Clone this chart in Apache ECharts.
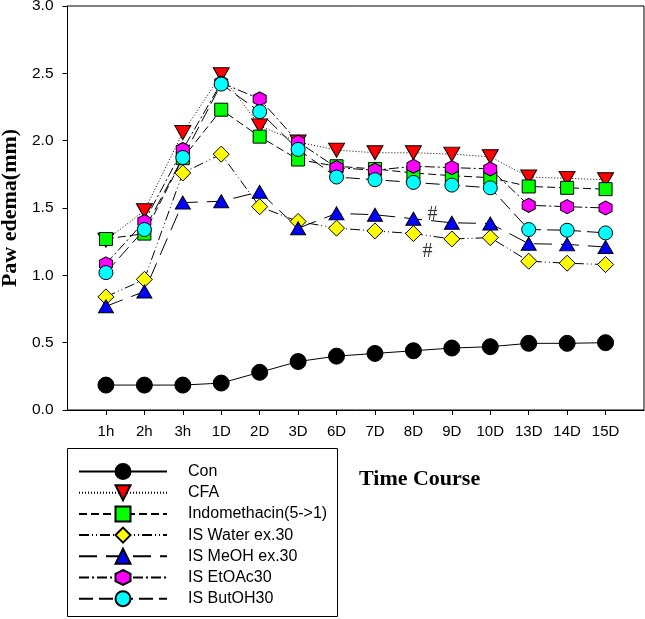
<!DOCTYPE html>
<html>
<head>
<meta charset="utf-8">
<script src="https://cdn.jsdelivr.net/npm/echarts@6/dist/echarts.min.js"></script>
<style>
html,body{margin:0;padding:0;background:#fff;}
#chart{width:645px;height:619px;}
</style>
</head>
<body>
<div id="chart"></div>
<script>
var categories = ['1h','2h','3h','1D','2D','3D','6D','7D','8D','9D','10D','13D','14D','15D'];
var yTicks = [0, 0.5, 1.0, 1.5, 2.0, 2.5, 3.0];
var seriesNames = ['Con','CFA','Indomethacin(5->1)','IS Water ex.30','IS MeOH ex.30','IS EtOAc30','IS ButOH30'];
var con   = [0.185,0.185,0.185,0.20,0.28,0.36,0.40,0.42,0.44,0.46,0.47,0.495,0.495,0.50];
var cfa   = [1.26,1.48,2.06,2.49,2.11,1.99,1.93,1.91,1.91,1.90,1.88,1.73,1.72,1.71];
var indo  = [1.27,1.31,1.87,2.23,2.03,1.86,1.81,1.79,1.76,1.74,1.725,1.66,1.65,1.64];
var water = [0.84,0.97,1.76,1.90,1.51,1.40,1.35,1.33,1.31,1.27,1.28,1.105,1.09,1.08];
var meoh  = [0.77,0.88,1.54,1.55,1.62,1.35,1.46,1.45,1.42,1.39,1.385,1.235,1.23,1.21];
var etoac = [1.085,1.40,1.935,2.43,2.31,1.99,1.80,1.78,1.81,1.80,1.79,1.52,1.51,1.50];
var butoh = [1.02,1.34,1.875,2.42,2.215,1.935,1.73,1.71,1.69,1.67,1.65,1.34,1.335,1.315];
var hashMarks = [[9.5, 1.448], [9.37, 1.175]];

var allData = [con, cfa, indo, water, meoh, etoac, butoh];
var styles = [
  {symbol:'circle', size:16, color:'#000000', dash:'solid'},
  {symbol:'path://M0,0 L2,0 L1,1.732 Z', size:[16,14], color:'#ff0000', dash:[1,2]},
  {symbol:'rect', size:13, color:'#00ff00', dash:[8,4]},
  {symbol:'diamond', size:[16,16], color:'#ffff00', dash:[10,3,1,3,1,3]},
  {symbol:'triangle', size:[15,13], color:'#0000ff', dash:[18,9]},
  {symbol:'path://M1,0 L1.866,0.5 L1.866,1.5 L1,2 L0.134,1.5 L0.134,0.5 Z', size:[13,14], color:'#ff00ff', dash:[10,3,2,3]},
  {symbol:'circle', size:14, color:'#00ffff', dash:[14,6]}
];

var series = allData.map(function(arr, si){
  var st = styles[si];
  return {
    name: seriesNames[si],
    type: 'line',
    data: arr.map(function(v, i){ return [i + 1, v]; }),
    symbol: st.symbol,
    symbolSize: st.size,
    showAllSymbol: true,
    lineStyle: {color:'#000', width:1, type: st.dash},
    itemStyle: {color: st.color, borderColor:'#000', borderWidth:1, opacity:1},
    emphasis: {disabled:true},
    animation: false
  };
});
series.push({
  name: 'annot',
  type: 'scatter',
  data: hashMarks,
  symbolSize: 1,
  itemStyle: {color:'rgba(0,0,0,0)'},
  label: {show:true, position:'inside', formatter:'#', color:'#000', fontFamily:'Liberation Serif', fontSize:20},
  silent: true,
  animation: false
});

var chart = echarts.init(document.getElementById('chart'), null, {renderer:'canvas'});
chart.setOption({
  backgroundColor: '#fff',
  animation: false,
  title: {
    text: 'Time Course',
    left: 359, top: 468,
    padding: 0,
    textStyle: {fontFamily:'Liberation Serif', fontWeight:'bold', fontSize:22, color:'#000'}
  },
  grid: {
    left: 67.5, right: 1, top: 6, bottom: 209,
    show: true, borderColor:'#000', borderWidth:1,
    outerBoundsMode: 'none'
  },
  xAxis: {
    type: 'value', min: 0, max: 15, interval: 1,
    splitLine: {show:false},
    axisLine: {lineStyle:{color:'#000', width:1}},
    axisTick: {show:true, length:5, lineStyle:{color:'#000'}, customValues:[1,2,3,4,5,6,7,8,9,10,11,12,13,14]},
    axisLabel: {
      customValues:[1,2,3,4,5,6,7,8,9,10,11,12,13,14],
      formatter: function(v){ return categories[Math.round(v) - 1] || ''; },
      color:'#000', fontFamily:'Liberation Sans', fontSize:15, margin:14
    }
  },
  yAxis: {
    type: 'value', min: 0, max: 3, interval: 0.5,
    name: 'Paw edema(mm)', nameLocation:'middle', nameGap: 46,
    nameTextStyle: {fontFamily:'Liberation Serif', fontWeight:'bold', fontSize:22, color:'#000'},
    splitLine: {show:false},
    axisLine: {show:true, lineStyle:{color:'#000', width:1}},
    axisTick: {show:true, length:5, lineStyle:{color:'#000'}},
    axisLabel: {
      customValues: yTicks,
      formatter: function(v){ return v.toFixed(1); },
      color:'#000', fontFamily:'Liberation Sans', fontSize:15.5, margin:14
    }
  },
  legend: {
    data: seriesNames,
    orient: 'vertical',
    left: 78, top: 463,
    padding: 0,
    itemWidth: 88, itemHeight: 18.75, itemGap: 4.2,
    selectedMode: false,
    textStyle: {fontFamily:'Liberation Sans', fontSize:16, color:'#000', padding:[0,0,0,16]}
  },
  graphic: [{
    type:'rect', silent:true, z:10,
    shape:{x:67.5, y:448.5, width:270, height:168},
    style:{fill:'none', stroke:'#000', lineWidth:1}
  }],
  series: series
});
</script>
</body>
</html>
